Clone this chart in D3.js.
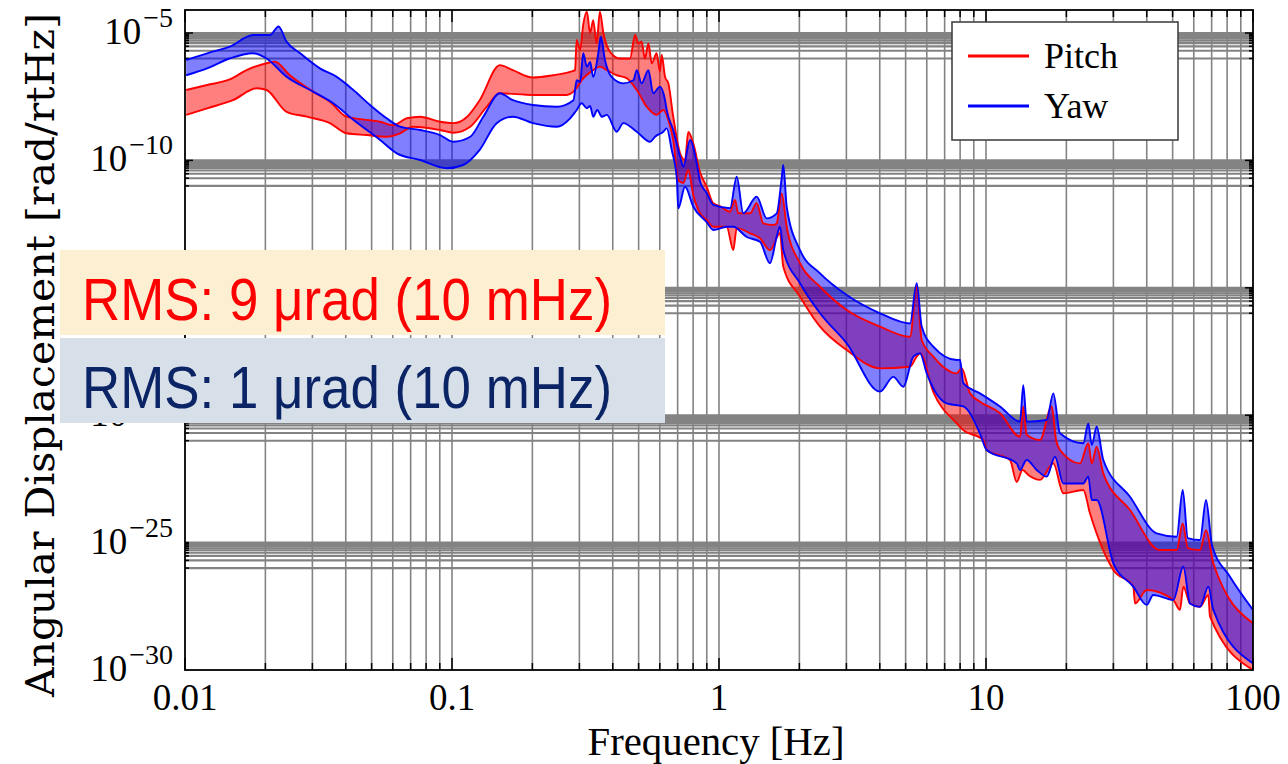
<!DOCTYPE html>
<html><head><meta charset="utf-8">
<script src="https://cdn.jsdelivr.net/npm/d3@7"></script>
<style>body{margin:0;background:#fff;} svg{display:block}</style>
</head><body><svg id="c" width="1288" height="764"></svg>
<script>
// ---------- data ----------
const xTicks = [0.01, 0.1, 1, 10, 100];
const xTickLabels = ["0.01", "0.1", "1", "10", "100"];
const yTicks = [1e-5, 1e-10, 1e-15, 1e-20, 1e-25, 1e-30];
const yTickExponents = ["\u22125", "\u221210", "\u221215", "\u221220", "\u221225", "\u221230"];
const seriesNames = ["Pitch", "Yaw"];
const rmsTexts = ["RMS: 9 \u03bcrad (10 mHz)", "RMS: 1 \u03bcrad (10 mHz)"];

const pitchUpperFreq = [0.0101,0.0121,0.0147,0.0170,0.0202,0.0217,0.0247,0.0302,0.0349,0.0403,0.0479,0.0538,0.0601,0.0677,0.0759,0.0902,0.101,0.114,0.127,0.151,0.169,0.201,0.239,0.277,0.289,0.293,0.302,0.310,0.320,0.329,0.338,0.348,0.358,0.369,0.391,0.426,0.464,0.485,0.499,0.513,0.528,0.544,0.560,0.584,0.601,0.610,0.628,0.646,0.674,0.715,0.746,0.767,0.801,0.849,0.899,0.952,1.009,1.100,1.148,1.18,1.307,1.384,1.465,1.597,1.645,1.717,1.793,2.011,2.390,3.009,4.009,5.193,5.502,5.744,6.349,7.769,8.110,8.711,9.495,11.28,13.41,13.79,14.2,15.93,17.62,18.3,18.93,22.49,24.16,24.9,25.97,27.50,34.62,44.84,51.78,54.54,57.0,63.32,66.68,71.01,100];
const pitchUpperVal = [5.8e-8,9.1e-8,1.5e-7,3.5e-7,6.5e-7,7.5e-7,2.2e-7,5.0e-8,2.0e-8,5.2e-9,3.9e-9,3.3e-9,2.4e-9,4.5e-9,5.2e-9,3.3e-9,2.9e-9,5.2e-9,2.3e-8,5.5e-7,3.5e-7,1.8e-7,2.2e-7,3.0e-7,3.5e-7,5.3e-6,2.2e-6,2.1e-5,6.9e-5,1e-5,3.2e-5,3.9e-6,6.9e-5,1e-5,1.8e-6,1.0e-6,1.0e-6,8.3e-6,3.9e-6,4.6e-6,1.0e-6,3.9e-6,6.5e-7,1.6e-6,3.0e-7,1.4e-6,1.9e-7,1.06e-7,5.2e-9,1.9e-10,1.04e-10,1.3e-9,4.7e-10,3.5e-11,9.3e-12,2.07e-12,1.6e-12,9.7e-13,2.8e-12,8.4e-13,8.4e-13,2.07e-12,3.4e-13,2.9e-13,3.4e-13,5.1e-12,2.5e-13,9.2e-15,1.1e-15,1.35e-16,3.0e-17,1.2e-17,1.1e-15,8.9e-18,2.0e-18,4.4e-19,6.9e-19,7.2e-20,3.4e-20,1.19e-20,1.43e-21,2.2e-20,1.7e-21,1.06e-21,2.2e-20,1.06e-21,4.3e-22,1.29e-22,7.9e-22,1.3e-22,5.8e-22,5.2e-23,1.9e-24,5.1e-26,5.1e-26,5.7e-25,6.1e-26,5.1e-26,3.1e-25,1.54e-26,6.8e-29];

const pitchLowerFreq = [0.0101,0.0121,0.0151,0.0186,0.0202,0.0240,0.0286,0.0349,0.0403,0.0479,0.0569,0.0639,0.0714,0.0902,0.101,0.117,0.135,0.151,0.201,0.269,0.285,0.293,0.306,0.338,0.358,0.380,0.414,0.451,0.492,0.536,0.584,0.619,0.646,0.674,0.704,0.735,0.767,0.801,0.849,0.899,0.952,1.069,1.131,1.165,1.307,1.424,1.552,1.692,1.741,2.011,2.390,3.009,4.009,5.193,5.502,5.661,6.349,7.769,8.222,9.770,10.06,12.30,13.03,13.7,14.40,15.93,17.87,19.48,23.14,24.51,29.99,35.62,36.15,39.99,50.29,53.28,54.83,58.08,63.32,68.02,69.02,100];
const pitchLowerVal = [6.1e-9,1.11e-8,2.3e-8,6.8e-8,5.8e-8,8.1e-9,5.2e-9,2.9e-9,1.16e-9,9.9e-10,8.5e-10,1.16e-9,2.1e-9,1.56e-9,1.22e-9,2.1e-9,1.28e-8,4.3e-8,3.7e-8,3.7e-8,5.0e-8,7.0e-8,1.4e-7,3.5e-7,4.8e-7,3.5e-7,2.2e-7,1.7e-7,5.8e-8,1.28e-8,6.1e-9,9.5e-9,3.9e-9,6.3e-10,1.7e-11,1.3e-11,4.2e-11,4.4e-12,8.4e-13,4.6e-13,2.5e-13,2.5e-13,3.0e-14,2.2e-13,1.38e-13,8.8e-14,3.0e-14,1.38e-13,6.7e-15,4.5e-16,3.0e-17,3.6e-18,6.9e-19,8.0e-19,2.0e-18,2.7e-18,8.1e-20,4.8e-21,2.6e-21,1.06e-21,4.3e-22,1.75e-22,2.4e-23,7.1e-23,4.5e-23,2.9e-23,1.29e-22,8.6e-24,1.16e-23,1.41e-24,8.4e-27,1.86e-27,4.1e-28,1.38e-27,5.6e-28,2.3e-28,1.86e-27,4.1e-28,3.0e-28,8.8e-28,1.24e-28,1e-30];

const yawUpperFreq = [0.0101,0.0121,0.0147,0.0180,0.0208,0.0224,0.0240,0.0270,0.0320,0.0370,0.0427,0.0493,0.0569,0.0639,0.0759,0.0902,0.101,0.117,0.131,0.151,0.169,0.201,0.247,0.285,0.293,0.302,0.310,0.320,0.329,0.338,0.353,0.361,0.374,0.396,0.438,0.478,0.492,0.513,0.544,0.567,0.601,0.628,0.637,0.674,0.715,0.735,0.779,0.825,0.849,0.899,0.952,1.100,1.165,1.233,1.384,1.509,1.645,1.717,1.741,1.793,2.011,2.390,3.009,4.009,5.193,5.502,5.744,6.349,7.769,7.99,8.222,9.495,11.28,13.41,13.79,14.2,16.88,17.87,18.93,23.14,24.16,24.9,25.97,27.50,34.62,43.58,51.78,54.54,57.0,63.32,66.68,70.2,82.01,100];
const yawUpperVal = [8.7e-7,1.6e-6,2.9e-6,8.3e-6,8.3e-6,1.8e-5,4.6e-6,1.6e-6,4.1e-7,1.9e-7,5.8e-8,1.5e-8,4.5e-9,2.1e-9,1.56e-9,9.9e-10,5.4e-10,8.5e-10,5.2e-9,4.3e-8,2.3e-8,1.5e-8,1.28e-8,2.3e-8,1.4e-7,1.2e-7,1.6e-6,4.8e-7,7.3e-7,1.9e-7,1.6e-6,7.2e-6,8.7e-7,1.9e-7,1.06e-7,1.4e-7,3.5e-7,1.06e-7,3.5e-7,4.3e-8,7.8e-8,2.3e-8,9.5e-9,1.56e-9,1.4e-10,5.7e-11,6.3e-10,7.7e-11,1.5e-11,5.3e-12,1.78e-12,1.32e-12,2.3e-11,8.4e-13,3.8e-12,5.3e-13,8.4e-13,2.0e-11,6.6e-11,1.52e-12,3.0e-14,3.7e-15,5.2e-16,1.0e-16,4.0e-17,1.5e-15,3.0e-17,4.9e-18,1.47e-18,1.5e-18,1.8e-19,7.2e-20,2.2e-20,5.6e-21,1.5e-19,5.6e-21,6.5e-21,7.2e-20,1.95e-21,7.9e-22,4.8e-21,6.8e-22,3.5e-21,1.75e-22,6.3e-24,2.3e-25,1.7e-25,1.16e-23,1.5e-25,1.26e-25,4.7e-24,8.1e-26,4.6e-27,2.3e-28];

const yawLowerFreq = [0.0101,0.0121,0.0147,0.0180,0.0202,0.0240,0.0302,0.0359,0.0427,0.0538,0.0621,0.0759,0.0955,0.110,0.127,0.147,0.169,0.201,0.247,0.277,0.293,0.306,0.320,0.329,0.338,0.350,0.364,0.380,0.414,0.438,0.492,0.552,0.576,0.619,0.637,0.665,0.695,0.704,0.746,0.801,0.899,0.952,1.069,1.131,1.270,1.424,1.552,1.645,1.692,1.741,2.011,2.390,3.009,4.009,4.496,4.902,5.343,5.661,5.998,7.125,8.222,9.495,10.06,13.03,13.41,14.2,15.48,16.88,18.13,19.48,23.14,24.16,24.9,25.97,29.99,35.62,39.99,42.3,50.29,54.83,58.08,63.32,68.02,71.01,100];
const yawLowerVal = [2.2e-7,4.1e-7,1.0e-6,1.6e-6,1.0e-6,1.9e-7,5.0e-8,1.74e-8,3.9e-9,6.3e-10,1.9e-10,1.04e-10,4.9e-11,6.6e-11,2.6e-10,2.9e-9,5.2e-9,2.9e-9,2.1e-9,4.5e-9,9.5e-9,1.74e-8,1.11e-8,1.36e-8,5.2e-9,9.5e-9,5.2e-9,6.1e-9,1.34e-9,2.9e-9,1.34e-9,5.4e-10,8.5e-10,1.34e-9,1.8e-9,2.6e-10,2.0e-11,1.32e-12,9.3e-12,1.52e-12,3.8e-13,1.85e-13,2.5e-13,2.5e-13,9.9e-14,6.4e-14,9.2e-15,1.01e-13,2.5e-13,3.0e-14,1.5e-15,1.0e-16,6.6e-18,8.4e-20,3.2e-19,1.3e-19,2.0e-18,2.7e-18,4.4e-19,2.9e-20,2.2e-20,1.9e-21,4.3e-22,1.29e-22,7.1e-23,1.75e-22,7.1e-23,3.9e-23,2.35e-22,2.1e-23,2.1e-23,3.9e-23,4.7e-24,4.7e-24,1.54e-26,1.86e-27,3.6e-28,8.8e-28,5.6e-28,1.13e-26,4.1e-28,3.0e-28,1.86e-27,2.3e-28,1.8e-30];

// ---------- layout ----------
const L = 185, R = 1253, T = 10, B = 670;
const svg = d3.select("#c");
const x = d3.scaleLog().domain([0.01, 100]).range([L, R]);
const y = d3.scaleLog().domain([1e-30, 8e-5]).range([B, T]);
const gridColor = "#838383";

svg.append("rect").attr("width", 1288).attr("height", 764).attr("fill", "#fff");

// vertical grid lines (1..9 per decade)
const xGrid = [];
[0.01, 0.1, 1, 10].forEach(d => { for (let k = 1; k <= 9; k++) xGrid.push(k * d); });
xGrid.push(100);
svg.append("g").selectAll("line").data(xGrid.filter(v => v > 0.01 && v < 100)).join("line")
  .attr("x1", d => x(d)).attr("x2", d => x(d)).attr("y1", T).attr("y2", B)
  .attr("stroke", gridColor).attr("stroke-width", 1.6);

// horizontal grid lines (decade below each labelled tick)
const yGrid = [];
yTicks.slice(0, -1).forEach(t => { for (let j = 1; j <= 10; j++) yGrid.push(j * t / 10); });
svg.append("g").selectAll("line").data(yGrid).join("line")
  .attr("x1", L).attr("x2", R).attr("y1", d => y(d)).attr("y2", d => y(d))
  .attr("stroke", gridColor).attr("stroke-width", 2.1);

// tick marks
const tg = svg.append("g").attr("stroke", "#000").attr("stroke-width", 1.5);
xGrid.forEach(v => {
  const len = xTicks.includes(v) ? 12 : 7;
  tg.append("line").attr("x1", x(v)).attr("x2", x(v)).attr("y1", B).attr("y2", B - len);
  tg.append("line").attr("x1", x(v)).attr("x2", x(v)).attr("y1", T).attr("y2", T + len);
});
yGrid.forEach(v => {
  const major = yTicks.includes(v);
  const len = major ? 8 : 4;
  tg.append("line").attr("x1", L).attr("x2", L + len).attr("y1", y(v)).attr("y2", y(v));
  tg.append("line").attr("x1", R).attr("x2", R - len).attr("y1", y(v)).attr("y2", y(v));
});

// clip
svg.append("clipPath").attr("id", "clip").append("rect")
  .attr("x", L).attr("y", T).attr("width", R - L).attr("height", B - T);

function pts(fs, vs) { return fs.map((f, i) => ({ f: f, v: vs[i] })); }
const line = d3.line().x(d => x(d.f)).y(d => y(d.v)).curve(d3.curveMonotoneX);

const series = [
  { name: seriesNames[0], color: "#ff0000", fill: "rgba(255,0,0,0.5)",
    up: pts(pitchUpperFreq, pitchUpperVal), lo: pts(pitchLowerFreq, pitchLowerVal) },
  { name: seriesNames[1], color: "#0000ff", fill: "rgba(0,0,255,0.5)",
    up: pts(yawUpperFreq, yawUpperVal), lo: pts(yawLowerFreq, yawLowerVal) }
];

const pg = svg.append("g").attr("clip-path", "url(#clip)");
series.forEach(s => {
  const upPath = line(s.up);
  const loRev = line(s.lo.slice().reverse());
  pg.append("path").attr("d", upPath + "L" + loRev.slice(1) + "Z")
    .attr("fill", s.fill).attr("stroke", "none");
});
series.forEach(s => {
  [s.up, s.lo].forEach(p => {
    pg.append("path").attr("d", line(p)).attr("fill", "none")
      .attr("stroke", s.color).attr("stroke-width", 1.9).attr("stroke-linejoin", "round");
  });
});

// frame
svg.append("rect").attr("x", L).attr("y", T).attr("width", R - L).attr("height", B - T)
  .attr("fill", "none").attr("stroke", "#000").attr("stroke-width", 1.8);

// x tick labels
svg.append("g").selectAll("text").data(xTicks).join("text")
  .attr("x", d => x(d)).attr("y", 710).attr("text-anchor", "middle")
  .attr("font-family", "Liberation Serif, Times New Roman, serif").attr("font-size", 37)
  .text((d, i) => xTickLabels[i]);

// y tick labels
yTicks.forEach((t, i) => {
  const tx = svg.append("text").attr("x", 173).attr("y", y(t) + 11).attr("text-anchor", "end")
    .attr("font-family", "Liberation Serif, Times New Roman, serif").attr("font-size", 37);
  tx.append("tspan").text("10");
  tx.append("tspan").attr("dy", -17).attr("dx", 2).attr("font-size", 28).text(yTickExponents[i]);
});

// axis titles
svg.append("text").attr("x", 716).attr("y", 755).attr("text-anchor", "middle")
  .attr("font-family", "Liberation Serif, Times New Roman, serif").attr("font-size", 39)
  .attr("textLength", 257).attr("lengthAdjust", "spacingAndGlyphs")
  .text("Frequency [Hz]");
svg.append("text").attr("transform", "translate(54,355) rotate(-90)").attr("text-anchor", "middle")
  .attr("font-family", "DejaVu Serif, Liberation Serif, serif").attr("font-size", 40)
  .attr("textLength", 684).attr("lengthAdjust", "spacingAndGlyphs")
  .text("Angular Displacement [rad/rtHz]");

// legend
const lg = svg.append("g");
lg.append("rect").attr("x", 952).attr("y", 22).attr("width", 226).attr("height", 118)
  .attr("fill", "#fff").attr("stroke", "#444").attr("stroke-width", 1.6);
series.forEach((s, i) => {
  const ly = 56 + i * 50;
  lg.append("line").attr("x1", 968).attr("x2", 1029).attr("y1", ly).attr("y2", ly)
    .attr("stroke", s.color).attr("stroke-width", 3);
  lg.append("text").attr("x", 1044).attr("y", ly + 12)
    .attr("font-family", "Liberation Serif, Times New Roman, serif").attr("font-size", 36)
    .text(s.name);
});

// RMS annotation boxes
const boxFills = ["#fcefd2", "#d7e0e8"];
const boxText = ["#ff0000", "#0b2466"];
const boxY = [250, 338];
rmsTexts.forEach((t, i) => {
  svg.append("rect").attr("x", 60).attr("y", boxY[i]).attr("width", 605).attr("height", 85)
    .attr("fill", boxFills[i]);
  svg.append("text").attr("x", 82).attr("y", boxY[i] + 70)
    .attr("font-family", "Liberation Sans, Arial, sans-serif").attr("font-size", 60)
    .attr("fill", boxText[i]).attr("textLength", 530).attr("lengthAdjust", "spacingAndGlyphs")
    .text(t);
});
</script>
</body></html>
